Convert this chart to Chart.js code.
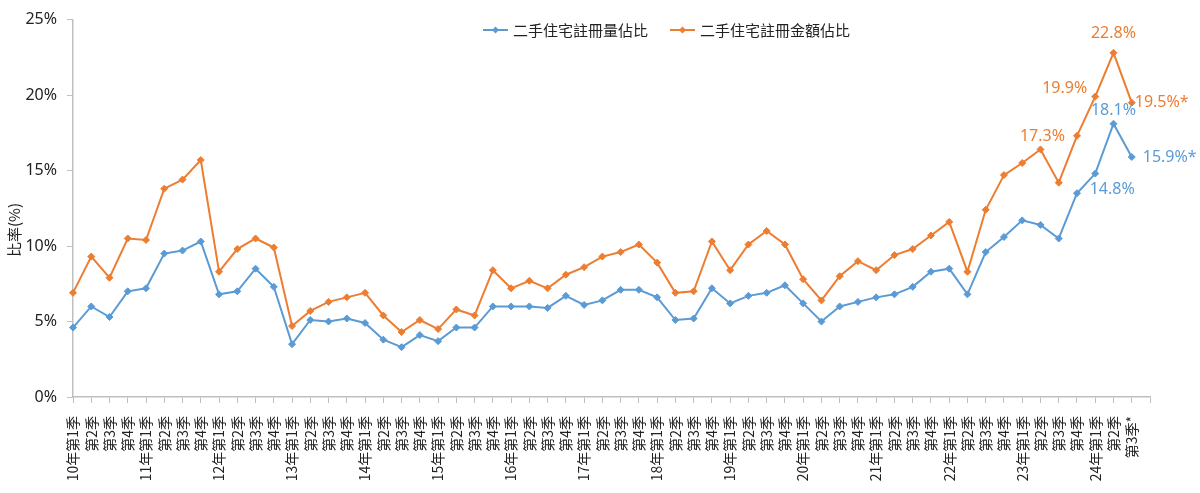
<!DOCTYPE html>
<html>
<head>
<meta charset="utf-8">
<script src="https://cdn.jsdelivr.net/npm/chart.js@4.4.1/dist/chart.umd.min.js"></script>
<style>
  html, body { margin: 0; padding: 0; background: #ffffff; }
  #wrap { width: 1200px; height: 493px; position: relative; }
</style>
</head>
<body>
<div id="wrap"><canvas id="c"></canvas></div>
<script>
// ---- data ----
const quarterLabels = [
  '10年第1季','第2季','第3季','第4季',
  '11年第1季','第2季','第3季','第4季',
  '12年第1季','第2季','第3季','第4季',
  '13年第1季','第2季','第3季','第4季',
  '14年第1季','第2季','第3季','第4季',
  '15年第1季','第2季','第3季','第4季',
  '16年第1季','第2季','第3季','第4季',
  '17年第1季','第2季','第3季','第4季',
  '18年第1季','第2季','第3季','第4季',
  '19年第1季','第2季','第3季','第4季',
  '20年第1季','第2季','第3季','第4季',
  '21年第1季','第2季','第3季','第4季',
  '22年第1季','第2季','第3季','第4季',
  '23年第1季','第2季','第3季','第4季',
  '24年第1季','第2季','第3季*',''
];
const volumeShare = [4.6, 6.0, 5.3, 7.0, 7.2, 9.5, 9.7, 10.3, 6.8, 7.0, 8.5, 7.3, 3.5, 5.1, 5.0, 5.2, 4.9, 3.8, 3.3, 4.1, 3.7, 4.6, 4.6, 6.0, 6.0, 6.0, 5.9, 6.7, 6.1, 6.4, 7.1, 7.1, 6.6, 5.1, 5.2, 7.2, 6.2, 6.7, 6.9, 7.4, 6.2, 5.0, 6.0, 6.3, 6.6, 6.8, 7.3, 8.3, 8.5, 6.8, 9.6, 10.6, 11.7, 11.4, 10.5, 13.5, 14.8, 18.1, 15.9];
const amountShare = [6.9, 9.3, 7.9, 10.5, 10.4, 13.8, 14.4, 15.7, 8.3, 9.8, 10.5, 9.9, 4.7, 5.7, 6.3, 6.6, 6.9, 5.4, 4.3, 5.1, 4.5, 5.8, 5.4, 8.4, 7.2, 7.7, 7.2, 8.1, 8.6, 9.3, 9.6, 10.1, 8.9, 6.9, 7.0, 10.3, 8.4, 10.1, 11.0, 10.1, 7.8, 6.4, 8.0, 9.0, 8.4, 9.4, 9.8, 10.7, 11.6, 8.3, 12.4, 14.7, 15.5, 16.4, 14.2, 17.3, 19.9, 22.8, 19.5];
const seriesNames = ['二手住宅註冊量佔比', '二手住宅註冊金額佔比'];
const yAxisTitle = '比率(%)';
const yTicks = [0, 5, 10, 15, 20, 25];
const labelledVolume = [56, 57, 58];
const labelledAmount = [55, 56, 57, 58];
const provisionalIndex = 58;

// ---- styles ----
const BLUE = '#5B9BD5';
const ORANGE = '#ED7D31';
const AXIS = '#BFBFBF';
const TEXT = '#222222';
const CJK = '"Noto Sans CJK TC", "Noto Sans", sans-serif';
const NUM = '"Noto Sans", "Open Sans", sans-serif';

// label offsets (style only)
const labelStyle = {
  '0-56': {align: 'center', dx: 17, dy: 16},
  '0-57': {align: 'center', dx: 0, dy: -13},
  '0-58': {align: 'left', dx: 11, dy: 0},
  '1-55': {align: 'right', dx: -12, dy: 1},
  '1-56': {align: 'right', dx: -8, dy: -8},
  '1-57': {align: 'center', dx: 0, dy: -19},
  '1-58': {align: 'left', dx: 3, dy: 0}
};
// legend layout (style only)
const legendStyle = { x: 483, y: 30, lineLen: 25, gapText: 5, itemGap: 22, font: '15px ' + CJK };

const customLegend = {
  id: 'customLegend',
  afterDraw(chart) {
    const ctx = chart.ctx;
    ctx.save();
    ctx.font = legendStyle.font;
    ctx.textBaseline = 'middle';
    ctx.textAlign = 'left';
    let x = legendStyle.x;
    const y = legendStyle.y;
    chart.data.datasets.forEach(ds => {
      const c = ds.borderColor;
      ctx.strokeStyle = c; ctx.lineWidth = 2;
      ctx.beginPath(); ctx.moveTo(x, y); ctx.lineTo(x + legendStyle.lineLen, y); ctx.stroke();
      ctx.fillStyle = c;
      const cx = x + legendStyle.lineLen / 2;
      ctx.beginPath(); ctx.moveTo(cx, y - 3.5); ctx.lineTo(cx + 3.5, y); ctx.lineTo(cx, y + 3.5); ctx.lineTo(cx - 3.5, y); ctx.closePath(); ctx.fill();
      const tx = x + legendStyle.lineLen + legendStyle.gapText;
      ctx.fillStyle = TEXT;
      ctx.fillText(ds.label, tx, y);
      x = tx + ctx.measureText(ds.label).width + legendStyle.itemGap;
    });
    ctx.restore();
  }
};

const yTitle = {
  id: 'yTitle',
  afterDraw(chart) {
    const ctx = chart.ctx;
    ctx.save();
    ctx.translate(14, 230);
    ctx.rotate(-Math.PI / 2);
    ctx.font = '15px ' + CJK;
    ctx.fillStyle = TEXT;
    ctx.textAlign = 'center';
    ctx.textBaseline = 'middle';
    ctx.fillText(yAxisTitle, 0, 0);
    ctx.restore();
  }
};

const dataLabels = {
  id: 'dataLabels',
  afterDatasetsDraw(chart) {
    const ctx = chart.ctx;
    ctx.save();
    ctx.font = '16px ' + NUM;
    ctx.textBaseline = 'middle';
    const sets = [[0, labelledVolume, BLUE], [1, labelledAmount, ORANGE]];
    sets.forEach(([di, idxs, color]) => {
      const meta = chart.getDatasetMeta(di);
      const vals = chart.data.datasets[di].data;
      idxs.forEach(i => {
        const pt = meta.data[i];
        if (!pt) return;
        const st = labelStyle[di + '-' + i];
        const txt = vals[i].toFixed(1) + '%' + (i === provisionalIndex ? '*' : '');
        ctx.fillStyle = color;
        ctx.textAlign = st.align;
        ctx.fillText(txt, pt.x + st.dx, pt.y + st.dy);
      });
    });
    ctx.restore();
  }
};

new Chart(document.getElementById('c'), {
  type: 'line',
  data: {
    labels: quarterLabels,
    datasets: [
      {
        label: seriesNames[0], data: volumeShare,
        borderColor: BLUE, backgroundColor: BLUE, borderWidth: 2,
        pointStyle: 'rectRot', pointRadius: 3.5, pointBorderWidth: 1,
        pointBackgroundColor: BLUE, pointBorderColor: BLUE, tension: 0
      },
      {
        label: seriesNames[1], data: amountShare,
        borderColor: ORANGE, backgroundColor: ORANGE, borderWidth: 2,
        pointStyle: 'rectRot', pointRadius: 3.5, pointBorderWidth: 1,
        pointBackgroundColor: ORANGE, pointBorderColor: ORANGE, tension: 0
      }
    ]
  },
  options: {
    responsive: true,
    maintainAspectRatio: false,
    animation: false,
    layout: { padding: { top: 15, right: 50, bottom: 0, left: 0 } },
    plugins: {
      tooltip: { enabled: false },
      legend: { display: false }
    },
    scales: {
      x: {
        type: 'category',
        offset: false,
        grid: { display: true, drawOnChartArea: false, color: AXIS, tickLength: 6 },
        border: { color: AXIS, width: 1.5 },
        ticks: {
          autoSkip: false, minRotation: 90, maxRotation: 90,
          padding: 13, color: TEXT, font: { family: CJK, size: 14 }
        },
        afterFit(scale) { scale.height = 96; }
      },
      y: {
        min: 0, max: 25,
        afterBuildTicks(scale) { scale.ticks = yTicks.map(v => ({ value: v })); },
        grid: { display: true, drawOnChartArea: false, color: AXIS, tickLength: 6 },
        border: { color: AXIS, width: 1.5 },
        ticks: {
          padding: 10, color: TEXT, font: { family: NUM, size: 16 },
          callback: v => v + '%'
        },
        title: { display: false, text: yAxisTitle },
        afterFit(scale) { scale.width = 73; }
      }
    }
  },
  plugins: [customLegend, yTitle, dataLabels]
});
</script>
</body>
</html>
